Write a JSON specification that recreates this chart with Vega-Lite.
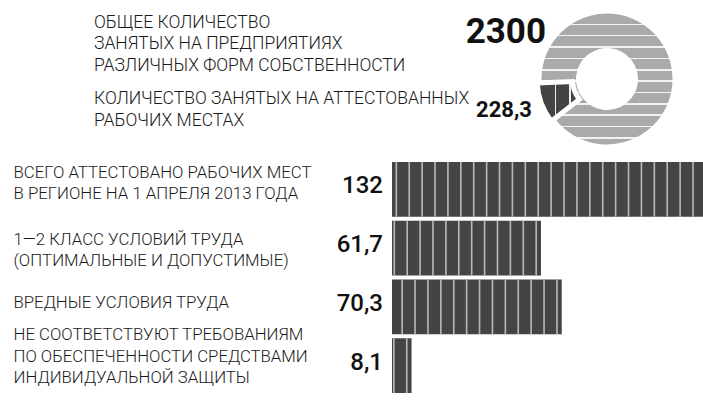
{
  "$schema": "https://vega.github.io/schema/vega-lite/v6.json",
  "padding": {"left": 13, "top": 0, "right": 0, "bottom": 7},
  "autosize": {"type": "pad"},
  "background": "white",
  "config": {
    "view": {"stroke": null},
    "font": "Roboto",
    "locale": {"number": {"decimal": ",", "thousands": " ", "grouping": [3], "currency": ["", " ₽"]}}
  },
  "datasets": {
    "employment": [
      {"kind": "total", "measure": "ОБЩЕЕ КОЛИЧЕСТВО\nЗАНЯТЫХ НА ПРЕДПРИЯТИЯХ\nРАЗЛИЧНЫХ ФОРМ СОБСТВЕННОСТИ", "value": 2300},
      {"kind": "certified", "measure": "КОЛИЧЕСТВО ЗАНЯТЫХ НА АТТЕСТОВАННЫХ\nРАБОЧИХ МЕСТАХ", "value": 228.3}
    ],
    "workplaces": [
      {"category": "ВСЕГО АТТЕСТОВАНО РАБОЧИХ МЕСТ\nВ РЕГИОНЕ НА 1 АПРЕЛЯ 2013 ГОДА", "value": 132},
      {"category": "1—2 КЛАСС УСЛОВИЙ ТРУДА\n(ОПТИМАЛЬНЫЕ И ДОПУСТИМЫЕ)", "value": 61.7},
      {"category": "ВРЕДНЫЕ УСЛОВИЯ ТРУДА", "value": 70.3},
      {"category": "НЕ СООТВЕТСТВУЮТ ТРЕБОВАНИЯМ\nПО ОБЕСПЕЧЕННОСТИ СРЕДСТВАМИ\nИНДИВИДУАЛЬНОЙ ЗАЩИТЫ", "value": 8.1}
    ]
  },
  "bounds": "flush",
  "spacing": 2,
  "vconcat": [
    {
      "width": 311,
      "height": 158,
      "data": {"name": "employment"},
      "layer": [
        {
          "mark": {"type": "point", "opacity": 0},
          "encoding": {
            "y": {
              "field": "measure",
              "type": "nominal",
              "sort": null,
              "scale": {"type": "point", "padding": 0.526},
              "axis": {
                "title": null,
                "domain": false,
                "ticks": false,
                "tickSize": 0,
                "labelPadding": 298.5,
                "labelAlign": "left",
                "labelBaseline": "middle",
                "labelOffset": -18.5,
                "labelLimit": 0,
                "labelFont": "Roboto",
                "labelFontWeight": 300,
                "labelFontSize": 17.5,
                "labelColor": "#1a1a1a",
                "labelLineHeight": 21.5,
                "labelExpr": "split(datum.value, '\\n')"
              }
            }
          }
        },
        {
          "transform": [{"filter": "datum.kind == 'total'"}],
          "mark": {
            "type": "arc",
            "outerRadius": 65.5,
            "innerRadius": 31,
            "xOffset": 59.5,
            "fill": {
              "gradient": "linear", "x1": 0, "y1": 0, "x2": 0, "y2": 1,
              "stops": [
                {"offset": 0, "color": "#aaaaaa"},
                {"offset": 0.0764, "color": "#aaaaaa"}, {"offset": 0.0764, "color": "#f2f2f2"}, {"offset": 0.0884, "color": "#f2f2f2"}, {"offset": 0.0884, "color": "#aaaaaa"},
                {"offset": 0.1632, "color": "#aaaaaa"}, {"offset": 0.1632, "color": "#f2f2f2"}, {"offset": 0.1752, "color": "#f2f2f2"}, {"offset": 0.1752, "color": "#aaaaaa"},
                {"offset": 0.2500, "color": "#aaaaaa"}, {"offset": 0.2500, "color": "#f2f2f2"}, {"offset": 0.2620, "color": "#f2f2f2"}, {"offset": 0.2620, "color": "#aaaaaa"},
                {"offset": 0.3368, "color": "#aaaaaa"}, {"offset": 0.3368, "color": "#f2f2f2"}, {"offset": 0.3488, "color": "#f2f2f2"}, {"offset": 0.3488, "color": "#aaaaaa"},
                {"offset": 0.4236, "color": "#aaaaaa"}, {"offset": 0.4236, "color": "#f2f2f2"}, {"offset": 0.4356, "color": "#f2f2f2"}, {"offset": 0.4356, "color": "#aaaaaa"},
                {"offset": 0.5104, "color": "#aaaaaa"}, {"offset": 0.5104, "color": "#f2f2f2"}, {"offset": 0.5224, "color": "#f2f2f2"}, {"offset": 0.5224, "color": "#aaaaaa"},
                {"offset": 0.5972, "color": "#aaaaaa"}, {"offset": 0.5972, "color": "#f2f2f2"}, {"offset": 0.6092, "color": "#f2f2f2"}, {"offset": 0.6092, "color": "#aaaaaa"},
                {"offset": 0.6840, "color": "#aaaaaa"}, {"offset": 0.6840, "color": "#f2f2f2"}, {"offset": 0.6960, "color": "#f2f2f2"}, {"offset": 0.6960, "color": "#aaaaaa"},
                {"offset": 0.7708, "color": "#aaaaaa"}, {"offset": 0.7708, "color": "#f2f2f2"}, {"offset": 0.7828, "color": "#f2f2f2"}, {"offset": 0.7828, "color": "#aaaaaa"},
                {"offset": 0.8576, "color": "#aaaaaa"}, {"offset": 0.8576, "color": "#f2f2f2"}, {"offset": 0.8696, "color": "#f2f2f2"}, {"offset": 0.8696, "color": "#aaaaaa"},
                {"offset": 0.9444, "color": "#aaaaaa"}, {"offset": 0.9444, "color": "#f2f2f2"}, {"offset": 0.9564, "color": "#f2f2f2"}, {"offset": 0.9564, "color": "#aaaaaa"},
                {"offset": 1, "color": "#aaaaaa"}
              ]
            }
          },
          "encoding": {
            "theta": {
              "field": "value",
              "type": "quantitative",
              "stack": true,
              "scale": {"domain": [0, 2300], "range": [4.0492, 10.3324]}
            }
          }
        },
        {
          "transform": [{"filter": "datum.kind == 'certified'"}],
          "mark": {
            "type": "arc",
            "outerRadius": 66.5,
            "innerRadius": 31,
            "stroke": "white",
            "strokeWidth": 5,
            "strokeJoin": "miter",
            "xOffset": 56.2,
            "yOffset": 1.3,
            "fill": {
              "gradient": "linear", "x1": 0, "y1": 0, "x2": 1, "y2": 0,
              "stops": [
                {"offset": 0, "color": "#444444"},
                {"offset": 0.415, "color": "#444444"}, {"offset": 0.415, "color": "#eeeeee"}, {"offset": 0.451, "color": "#eeeeee"}, {"offset": 0.451, "color": "#444444"},
                {"offset": 0.762, "color": "#444444"}, {"offset": 0.762, "color": "#eeeeee"}, {"offset": 0.798, "color": "#eeeeee"}, {"offset": 0.798, "color": "#444444"},
                {"offset": 1, "color": "#444444"}
              ]
            }
          },
          "encoding": {
            "theta": {"field": "value", "type": "quantitative", "stack": true}
          }
        },
        {
          "transform": [{"filter": "datum.kind == 'total'"}],
          "mark": {
            "type": "text",
            "align": "right",
            "baseline": "alphabetic",
            "dx": -1.5,
            "dy": -36,
            "font": "Roboto",
            "fontWeight": "bold",
            "fontSize": 35,
            "fill": "#111111"
          },
          "encoding": {"text": {"field": "value", "type": "quantitative", "format": "d"}}
        },
        {
          "transform": [{"filter": "datum.kind == 'certified'"}],
          "mark": {
            "type": "text",
            "align": "right",
            "baseline": "alphabetic",
            "dx": -15.5,
            "dy": 38,
            "font": "Roboto",
            "fontWeight": "bold",
            "fontSize": 22,
            "fill": "#111111"
          },
          "encoding": {"text": {"field": "value", "type": "quantitative", "format": ".1f"}}
        }
      ]
    },
    {
      "width": 311,
      "height": 235,
      "data": {"name": "workplaces"},
      "encoding": {
        "y": {
          "field": "category",
          "type": "nominal",
          "sort": null,
          "scale": {"paddingInner": 0.07, "paddingOuter": 0.035},
          "axis": {
            "title": null,
            "domain": false,
            "ticks": false,
            "tickSize": 0,
            "labelPadding": 379,
            "labelAlign": "left",
            "labelBaseline": "middle",
            "labelOffset": {
              "condition": [
                {"test": "length(split(datum.value, '\\n')) == 3", "value": -30.5},
                {"test": "indexof(datum.value, 'ВСЕГО') == 0", "value": -16.5},
                {"test": "length(split(datum.value, '\\n')) == 2", "value": -8.5}
              ],
              "value": -4
            },
            "labelLimit": 0,
            "labelFont": "Roboto",
            "labelFontWeight": 300,
            "labelFontSize": 16.8,
            "labelColor": "#1a1a1a",
            "labelLineHeight": 21.5,
            "labelExpr": "split(datum.value, '\\n')"
          }
        }
      },
      "layer": [
        {
          "mark": {"type": "bar", "fill": "#444444", "clip": true},
          "encoding": {
            "x": {"field": "value", "type": "quantitative", "scale": {"domain": [0, 128.8], "nice": false}, "axis": null}
          }
        },
        {
          "mark": {"type": "rule", "stroke": "#b8b8b8", "strokeWidth": 54.6, "strokeDash": [1.6, 11.3], "strokeDashOffset": 8.9, "strokeCap": "butt", "clip": true},
          "encoding": {
            "x": {"field": "value", "type": "quantitative"},
            "x2": {"datum": 0}
          }
        },
        {
          "mark": {"type": "text", "align": "right", "baseline": "middle", "dx": -9, "dy": -3, "font": "Roboto", "fontWeight": 500, "fontSize": 24, "fill": "#111111"},
          "encoding": {
            "x": {"datum": 0, "type": "quantitative"},
            "text": {"field": "value", "type": "quantitative", "format": ".1~f"}
          }
        }
      ]
    }
  ]
}
